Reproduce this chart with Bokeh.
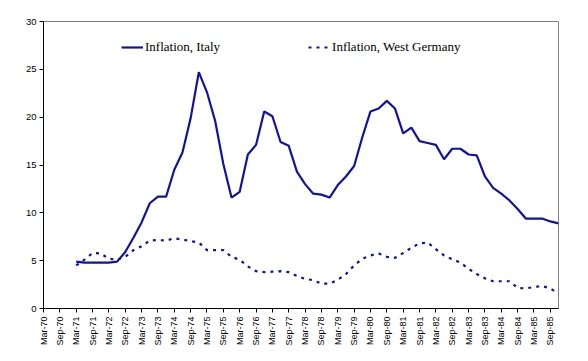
import math
from bokeh.plotting import figure
from bokeh.models import Range1d, FixedTicker, Legend, LegendItem
from bokeh.embed import file_html
from bokeh.resources import INLINE

# quarterly categories Mar-70 .. Dec-85
months = ["Mar", "Jun", "Sep", "Dec"]
years = list(range(70, 86))
quarters = [f"{m}-{y}" for y in years for m in months]

# data start at Mar-71
start_label = "Mar-71"

italy = [4.9, 4.8, 4.8, 4.8, 4.8, 4.9, 5.9, 7.4, 9.0, 11.0,
         11.7, 11.7, 14.5, 16.3, 19.9, 24.7, 22.6, 19.6, 15.1, 11.6,
         12.2, 16.1, 17.1, 20.6, 20.1, 17.4, 17.0, 14.3, 13.0, 12.0,
         11.9, 11.6, 12.9, 13.8, 14.9, 17.9, 20.6, 20.9, 21.7, 20.9,
         18.3, 18.9, 17.5, 17.3, 17.1, 15.6, 16.7, 16.7, 16.1, 16.0,
         13.8, 12.6, 12.0, 11.3, 10.4, 9.4, 9.4, 9.4, 9.1, 8.9]

germany = [4.5, 5.1, 5.8, 5.75, 5.2, 5.1, 5.4, 6.1, 6.5, 7.1,
           7.15, 7.1, 7.35, 7.2, 7.05, 6.9, 6.1, 6.1, 6.1, 5.4,
           5.1, 4.4, 3.9, 3.8, 3.85, 3.9, 3.8, 3.4, 3.1, 2.95,
           2.6, 2.6, 3.0, 3.6, 4.5, 5.2, 5.55, 5.75, 5.4, 5.3,
           5.8, 6.35, 6.8, 6.9, 6.2, 5.55, 5.15, 4.8, 4.15, 3.6,
           3.15, 2.85, 2.85, 2.85, 2.15, 2.1, 2.25, 2.35, 2.1, 1.55]

series_names = ["Inflation, Italy", "Inflation, West Germany"]
y_ticks = [0, 5, 10, 15, 20, 25, 30]

s0 = quarters.index(start_label)
xs = list(range(s0, s0 + len(italy)))
label_idx = list(range(0, len(quarters), 2))

BLUE = "#1212A2"

p = figure(frame_width=515, frame_height=287, output_backend="svg",
           toolbar_location=None,
           x_range=Range1d(0, len(quarters) - 1), y_range=Range1d(0, 30),
           min_border_left=43, min_border_top=21, min_border_right=22,
           min_border_bottom=46, background_fill_color="white",
           border_fill_color="white")
p.outline_line_color = "#808080"
p.outline_line_width = 1
p.xgrid.visible = False
p.ygrid.visible = False

r1 = p.line(xs, italy, line_color=BLUE, line_width=2.2)
r2 = p.line(xs, germany, line_color=BLUE, line_width=2.2, line_dash="3 5")

p.yaxis.ticker = FixedTicker(ticks=y_ticks)
p.yaxis.axis_line_color = "black"
p.yaxis.major_tick_line_color = "black"
p.yaxis.major_tick_out = 4
p.yaxis.major_tick_in = 0
p.yaxis.minor_tick_line_color = None
p.yaxis.major_label_text_font = "Liberation Sans"
p.yaxis.major_label_text_font_size = "9.5px"
p.yaxis.major_label_text_color = "black"
p.yaxis.major_label_standoff = 3

p.xaxis.ticker = FixedTicker(ticks=label_idx)
p.xaxis.major_label_overrides = {i: quarters[i] for i in label_idx}
p.xaxis.major_label_orientation = math.pi / 2
p.xaxis.axis_line_color = "black"
p.xaxis.major_tick_line_color = "black"
p.xaxis.major_tick_out = 4
p.xaxis.major_tick_in = 0
p.xaxis.minor_tick_line_color = None
p.xaxis.major_label_text_font = "Liberation Sans"
p.xaxis.major_label_text_font_size = "9px"
p.xaxis.major_label_text_color = "black"
p.xaxis.major_label_standoff = 4

legend = Legend(items=[LegendItem(label=series_names[0], renderers=[r1]),
                       LegendItem(label=series_names[1], renderers=[r2])],
                location=(78, 251), orientation="horizontal",
                glyph_width=22, glyph_height=20, label_standoff=2,
                spacing=88, padding=0, margin=0,
                label_text_font="Liberation Serif", label_text_font_size="13px",
                label_text_color="black",
                background_fill_alpha=0, border_line_color=None)
p.add_layout(legend)

open("out.html", "w").write(file_html(p, INLINE))
